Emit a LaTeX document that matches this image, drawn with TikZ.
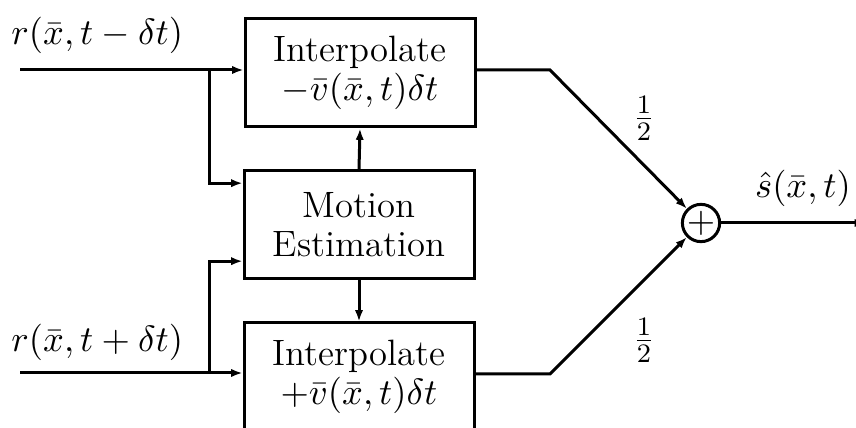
\documentclass[tikz,border=0pt]{standalone}
\usepackage{amsmath}
\usepackage{tikz}
\usetikzlibrary{arrows.meta,calc,positioning}

\begin{document}
\begin{tikzpicture}[x=0.3pt,y=0.3pt,line width=0.9pt,>={Latex[length=3.4pt,width=2.5pt]},
   blk/.style={draw,rectangle,minimum width=69pt,minimum height=32.4pt,align=center,inner sep=0pt,font=\fontsize{11}{11.5}\selectfont},
   lbl/.style={font=\fontsize{11}{13}\selectfont,inner sep=0pt}]
\useasboundingbox (0,0) rectangle (856,428);
% the three blocks and the adder
\node[blk](ipm) at (360,355) {Interpolate\\$-\bar{v}(\bar{x},t)\delta t$};
\node[blk](me) at (359,203.5) {Motion\\Estimation};
\node[blk](ipp) at (359,51) {Interpolate\\$+\bar{v}(\bar{x},t)\delta t$};
\node[draw,circle,minimum size=9.8pt,inner sep=0pt,font=\fontsize{11}{13}\selectfont](sum) at (701,205) {$+$};
% inputs
\node[lbl,anchor=west](rm) at (10,393) {$r(\bar{x},t-\delta t)$};
\node[lbl,anchor=west](rp) at (10,86) {$r(\bar{x},t+\delta t)$};
\coordinate (inm) at (20,358);
\coordinate (inp) at (20,55);
\coordinate (bm) at (209,358);
\coordinate (bp) at (209,55);
\draw[->] (inm) -- (inm -| ipm.west);
\draw[->] (inp) -- (inp -| ipp.west);
\draw[->] (bm) |- ([yshift=12.4pt]me.west);
\draw[->] (bp) |- ([yshift=-11pt]me.west);
\draw[->] (me.north) -- (ipm.south);
\draw[->] (me.south) -- (ipp.north);
% weighted sum
\coordinate (km) at (550,358);
\coordinate (kp) at (550,54);
\draw[->] (km -| ipm.east) -- (km) -- (sum);
\draw[->] (kp -| ipp.east) -- (kp) -- (sum);
\foreach \y/\n in {310/hm,88/hp} {
   \node[lbl](\n) at (644,\y) {$\frac{1}{2}$};
}
% output runs off the right edge
\coordinate (so) at (866,205);
\draw[->] (sum) -- (so);
\node[lbl](sh) at (803,240) {$\hat{s}(\bar{x},t)$};
\end{tikzpicture}
\end{document}
